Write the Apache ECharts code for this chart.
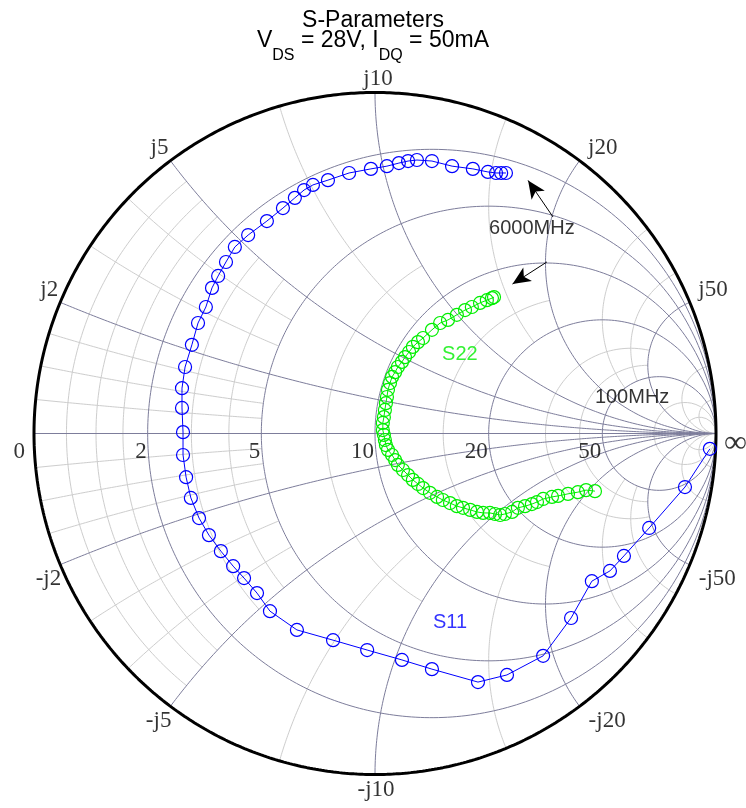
<!DOCTYPE html>
<html>
<head>
<meta charset="utf-8">
<script src="https://cdn.jsdelivr.net/npm/echarts@6/dist/echarts.min.js"></script>
<style>
html,body{margin:0;padding:0;background:#fff;}
#chart{width:746px;height:808px;}
</style>
</head>
<body>
<div id="chart"></div>
<script>
// ---------------- data (reflection coefficient) ----------------
const Z0 = 10; // ohm, chart normalisation
const majorValues = [0.2, 0.5, 1, 2, 5];
const realTickLabels = ['2', '5', '10', '20', '50'];
const posImagTickLabels = ['j2', 'j5', 'j10', 'j20', 'j50'];
const negImagTickLabels = ['-j2', '-j5', '-j10', '-j20', '-j50'];
const minorBands = [
  { vals: [0.05, 0.1, 0.15], lim: 0.5 },
  { vals: [0.3, 0.4], lim: 0.5 },
  { vals: [0.75], lim: 1 },
  { vals: [1.5], lim: 2 },
  { vals: [3, 4], lim: 5 },
  { vals: [10, 20], lim: Infinity }
];

// S11: 100 MHz -> 6000 MHz
const s11Re = [0.982, 0.909, 0.804, 0.730, 0.689, 0.636, 0.575, 0.493, 0.387, 0.302, 0.167, 0.079, -0.023, -0.123, -0.229, -0.308, -0.346, -0.384, -0.416, -0.452, -0.487, -0.516, -0.540, -0.554, -0.563, -0.563, -0.566, -0.566, -0.557, -0.537, -0.519, -0.496, -0.478, -0.460, -0.437, -0.411, -0.372, -0.317, -0.270, -0.235, -0.208, -0.182, -0.138, -0.076, -0.012, 0.035, 0.070, 0.097, 0.123, 0.167, 0.226, 0.287, 0.331, 0.355, 0.370, 0.384];
const s11Im = [-0.045, -0.157, -0.277, -0.359, -0.403, -0.433, -0.541, -0.652, -0.708, -0.729, -0.691, -0.664, -0.635, -0.606, -0.576, -0.521, -0.468, -0.424, -0.389, -0.345, -0.298, -0.248, -0.189, -0.128, -0.063, 0.004, 0.075, 0.133, 0.195, 0.260, 0.324, 0.371, 0.427, 0.462, 0.503, 0.547, 0.582, 0.623, 0.661, 0.691, 0.714, 0.729, 0.743, 0.764, 0.776, 0.784, 0.793, 0.799, 0.802, 0.799, 0.784, 0.776, 0.767, 0.764, 0.764, 0.764];

// S22: 100 MHz -> 6000 MHz
const s22Re = [0.645, 0.619, 0.595, 0.566, 0.537, 0.519, 0.493, 0.475, 0.460, 0.440, 0.419, 0.402, 0.381, 0.367, 0.352, 0.337, 0.317, 0.299, 0.279, 0.258, 0.240, 0.220, 0.199, 0.182, 0.161, 0.141, 0.126, 0.111, 0.097, 0.082, 0.067, 0.059, 0.050, 0.038, 0.032, 0.029, 0.026, 0.023, 0.023, 0.026, 0.029, 0.032, 0.035, 0.038, 0.044, 0.050, 0.059, 0.067, 0.079, 0.088, 0.100, 0.111, 0.126, 0.141, 0.167, 0.191, 0.214, 0.240, 0.264, 0.284, 0.308, 0.328, 0.343, 0.349];
const s22Im = [-0.169, -0.166, -0.172, -0.177, -0.183, -0.186, -0.192, -0.201, -0.207, -0.213, -0.218, -0.230, -0.236, -0.239, -0.236, -0.233, -0.233, -0.230, -0.224, -0.218, -0.213, -0.204, -0.195, -0.186, -0.174, -0.160, -0.148, -0.136, -0.122, -0.107, -0.092, -0.078, -0.063, -0.048, -0.034, -0.019, -0.004, 0.010, 0.031, 0.048, 0.069, 0.089, 0.107, 0.128, 0.148, 0.166, 0.180, 0.195, 0.210, 0.224, 0.239, 0.254, 0.268, 0.280, 0.304, 0.324, 0.333, 0.348, 0.362, 0.371, 0.383, 0.391, 0.397, 0.400];

// annotations (Gamma plane)
const noteTexts = ['S11', 'S22', '100MHz', '6000MHz'];
const noteColors = ['#0000ff', '#00ee00', '#000000', '#000000'];
const notePos = [[0.220, -0.553], [0.249, 0.233], [0.754, 0.107], [0.460, 0.602]];
const arrowFrom = [[0.522, 0.635], [0.504, 0.503]];
const arrowTo = [[0.434, 0.764], [0.381, 0.424]];

// ---------------- geometry helpers ----------------
const R_PX = 341;
const DARK = '#7d7d9b';
const LIGHT = '#cdcdcd';

function gamma(r, x) {
  const den = (r + 1) * (r + 1) + x * x;
  return [(r * r - 1 + x * x) / den, (2 * x) / den];
}
function tanSafe(t) {
  if (t >= Math.PI / 2 - 1e-9) return 1e9;
  if (t <= -Math.PI / 2 + 1e-9) return -1e9;
  return Math.tan(t);
}
function rArc(r, x1, x2, n) {
  const t1 = Math.atan(x1), t2 = Math.atan(x2), pts = [];
  for (let i = 0; i <= n; i++) pts.push(gamma(r, tanSafe(t1 + (t2 - t1) * i / n)));
  return pts;
}
function xArc(x, r1, r2, n) {
  const t1 = Math.atan(r1), t2 = Math.atan(r2), pts = [];
  for (let i = 0; i <= n; i++) pts.push(gamma(tanSafe(t1 + (t2 - t1) * i / n), x));
  return pts;
}
function lineSeries(pts, color, width) {
  return {
    type: 'line', data: pts, showSymbol: false, symbol: 'none', silent: true,
    clip: false, smooth: false, animation: false,
    lineStyle: { color: color, width: width }, z: 1
  };
}

const series = [];
// light minor grid
minorBands.forEach(b => {
  b.vals.forEach(v => {
    series.push(lineSeries(rArc(v, -b.lim, b.lim, 300), LIGHT, 1));
    series.push(lineSeries(xArc(v, 0, b.lim, 300), LIGHT, 1));
    series.push(lineSeries(xArc(-v, 0, b.lim, 300), LIGHT, 1));
  });
});
// dark major grid
majorValues.forEach(v => {
  series.push(lineSeries(rArc(v, -Infinity, Infinity, 400), DARK, 1));
  series.push(lineSeries(xArc(v, 0, Infinity, 300), DARK, 1));
  series.push(lineSeries(xArc(-v, 0, Infinity, 300), DARK, 1));
});
series.push(lineSeries([[-1, 0], [1, 0]], DARK, 1));
// outer circle
series.push(lineSeries(rArc(0, -Infinity, Infinity, 720), '#000000', 3));

// tick labels
const tickFont = { fontFamily: 'Liberation Serif', fontSize: 23, color: '#000' };
const tickData = [];
tickData.push({ name: '0', value: [-1, 0], label: { align: 'right', verticalAlign: 'middle', offset: [-9, 18] } });
majorValues.forEach((v, i) => {
  tickData.push({ name: realTickLabels[i], value: gamma(v, 0), label: { align: 'right', verticalAlign: 'middle', offset: [-1, 18] } });
});
tickData.push({ name: '\u221E', value: [1, 0], label: { align: 'left', verticalAlign: 'middle', offset: [8, 10], fontSize: 32 } });
majorValues.forEach((v, i) => {
  const p = gamma(0, v), q = gamma(0, -v);
  let alignP, offP, offQ;
  if (p[0] < -0.1) { alignP = 'right'; offP = [-2, -12.5]; offQ = [1, 14.5]; }
  else if (p[0] > 0.1) { alignP = 'left'; offP = [8.5, -12.5]; offQ = [9, 14.5]; }
  else { alignP = 'center'; offP = [3, -13.5]; offQ = [1, 15]; }
  tickData.push({ name: posImagTickLabels[i], value: p, label: { align: alignP, verticalAlign: 'middle', offset: offP } });
  tickData.push({ name: negImagTickLabels[i], value: q, label: { align: alignP, verticalAlign: 'middle', offset: offQ } });
});
series.push({
  type: 'scatter', data: tickData, symbolSize: 1, silent: true, clip: false, animation: false,
  itemStyle: { color: 'rgba(0,0,0,0)' }, z: 3,
  label: Object.assign({ show: true, position: 'inside', formatter: '{b}' }, tickFont)
});

// measured data
const s11Data = s11Re.map((v, i) => [v, s11Im[i]]);
const s22Data = s22Re.map((v, i) => [v, s22Im[i]]);
series.push({
  name: 'S22', type: 'line', data: s22Data, symbol: 'circle', symbolSize: 13, showSymbol: true,
  clip: false, animation: false, z: 4,
  lineStyle: { color: '#00ee00', width: 1 },
  itemStyle: { color: 'rgba(0,0,0,0)', borderColor: '#00ee00', borderWidth: 1.2 }
});
series.push({
  name: 'S11', type: 'line', data: s11Data, symbol: 'circle', symbolSize: 13, showSymbol: true,
  clip: false, animation: false, z: 4,
  lineStyle: { color: '#0000ff', width: 1 },
  itemStyle: { color: 'rgba(0,0,0,0)', borderColor: '#0000ff', borderWidth: 1.2 }
});

// annotations
series.push({
  type: 'scatter', symbolSize: 1, silent: true, clip: false, animation: false, z: 5,
  itemStyle: { color: 'rgba(0,0,0,0)' },
  data: noteTexts.map((t, i) => ({
    name: t, value: notePos[i],
    label: { color: noteColors[i] }
  })),
  label: { show: true, position: 'inside', formatter: '{b}', fontFamily: 'Liberation Sans', fontSize: 20, align: 'center', verticalAlign: 'middle' }
});
const ARROW_LEN = 18;
series.push({
  type: 'line', data: [], silent: true, animation: false, z: 5,
  markLine: {
    silent: true, animation: false,
    symbol: ['none', 'arrow'], symbolSize: [12, ARROW_LEN],
    lineStyle: { color: '#000', width: 1, type: 'solid' },
    label: { show: false },
    data: arrowFrom.map((f, i) => {
      const t = arrowTo[i];
      const dx = t[0] - f[0], dy = t[1] - f[1];
      const len = Math.sqrt(dx * dx + dy * dy);
      const k = (ARROW_LEN / 2) / R_PX / len;
      return [{ coord: f }, { coord: [t[0] - dx * k, t[1] - dy * k] }];
    })
  }
});

const chart = echarts.init(document.getElementById('chart'), null, { renderer: 'canvas' });
chart.setOption({
  backgroundColor: '#ffffff',
  animation: false,
  title: [
    {
      text: 'S-Parameters', left: 'center', top: 9, padding: 0,
      textStyle: { fontFamily: 'Liberation Sans', fontSize: 23, fontWeight: 'normal', color: '#000', lineHeight: 23 }
    },
    {
      text: '{n|V}{s|DS}{n| = 28V, I}{s|DQ}{n| = 50mA}', left: 'center', top: 29, padding: 0,
      textStyle: {
        fontFamily: 'Liberation Sans', fontWeight: 'normal', color: '#000',
        rich: {
          n: { fontFamily: 'Liberation Sans', fontWeight: 'normal', fontSize: 23, lineHeight: 24, verticalAlign: 'top', color: '#000' },
          s: { fontFamily: 'Liberation Sans', fontWeight: 'normal', fontSize: 16, lineHeight: 16, padding: [19, 0, 0, 0], verticalAlign: 'top', color: '#000' }
        }
      }
    }
  ],
  grid: { left: 34, top: 92.5, width: 682, height: 682 },
  xAxis: { type: 'value', min: -1, max: 1, show: false },
  yAxis: { type: 'value', min: -1, max: 1, show: false },
  series: series
});
</script>
</body>
</html>
